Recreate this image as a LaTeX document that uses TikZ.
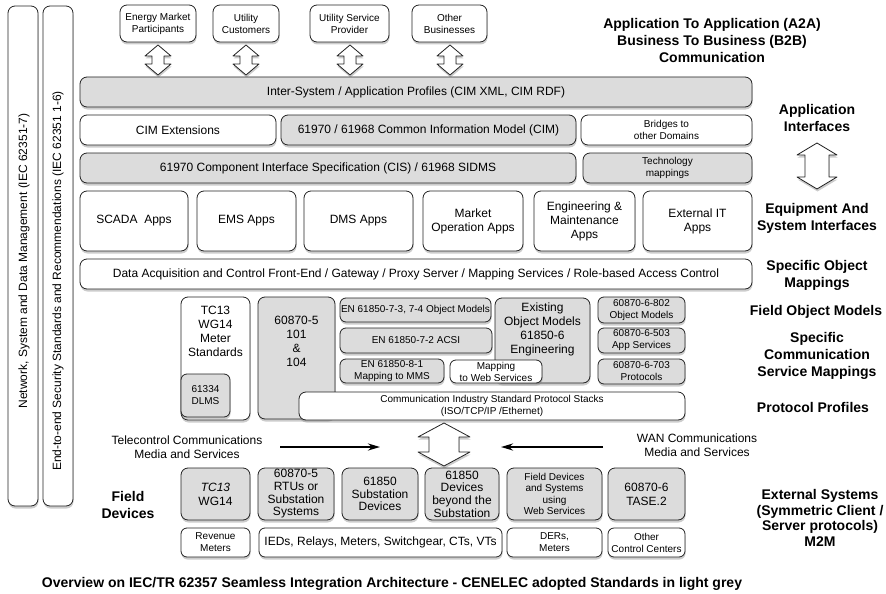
\documentclass[tikz,border=0pt]{standalone}
\usepackage{fontspec}
\setmainfont{Liberation Sans}
\usetikzlibrary{shadows,arrows.meta}
\definecolor{lgrey}{RGB}{220,220,220}
\definecolor{edge}{RGB}{35,35,35}
\newcommand{\placebox}[7]{\node[#1, minimum width={#5pt-#3pt}, minimum height={#6pt-#4pt}] (#2) at ({(#3+#5)/2},{(#4+#6)/2}) {#7};}
\newcommand{\dblarrow}[6]{%
  \draw[arrowshape] (#1,#2) -- ({#1+#4},{#2+#6}) -- ({#1+#5},{#2+#6}) -- ({#1+#5},{#3-#6}) -- ({#1+#4},{#3-#6}) -- (#1,#3) -- ({#1-#4},{#3-#6}) -- ({#1-#5},{#3-#6}) -- ({#1-#5},{#2+#6}) -- ({#1-#4},{#2+#6}) -- cycle;}
\begin{document}
\begin{tikzpicture}[x=1pt,y=-1pt,
  base/.style={draw=edge, line width=0.8pt, rounded corners=7pt, inner sep=1pt, align=center,
     drop shadow={shadow xshift=0.5pt, shadow yshift=-2.5pt, opacity=0.4}},
  wbox/.style={base, fill=white},
  gbox/.style={base, fill=lgrey},
  small/.style={rounded corners=6pt},
  f12/.style={font=\fontsize{12}{14}\selectfont},
  f10/.style={font=\fontsize{10}{12}\selectfont},
  lbl/.style={font=\bfseries\fontsize{14}{17}\selectfont, align=center, inner sep=0pt},
  txt/.style={align=center, inner sep=0pt},
  arrowshape/.style={draw=edge, line width=0.8pt, fill=white, line join=round,
     drop shadow={shadow xshift=0.5pt, shadow yshift=-2.5pt, opacity=0.4}},
  flow/.style={line width=2pt, -{Stealth[length=12pt,width=7pt]}}
]
\useasboundingbox (0,0) rectangle (886,594);

% left vertical bars
\placebox{wbox}{bar1}{8}{6}{38}{506}{}
\placebox{wbox}{bar2}{43}{6}{73}{506}{}
\node[txt, rotate=90, font=\fontsize{12}{14}\selectfont] (bar1t) at (24,261) {Network, System and Data Management (IEC 62351-7)};
\node[txt, rotate=90, font=\fontsize{12}{14}\selectfont] (bar2t) at (58,281) {End-to-end Security Standards and Recommendations (IEC 62351 1-6)};

% top partner boxes
\placebox{wbox,f10}{emp}{120}{5}{196}{42}{Energy Market\\Participants}
\placebox{wbox,f10}{uc}{213}{5}{279}{42}{Utility\\Customers}
\placebox{wbox,f10}{usp}{310}{5}{389}{42}{Utility Service\\Provider}
\placebox{wbox,f10}{ob}{412}{5}{487}{42}{Other\\Businesses}

\dblarrow{158}{45}{75}{13}{6}{11}
\dblarrow{246}{45}{75}{13}{6}{11}
\dblarrow{350}{45}{75}{13}{6}{11}
\dblarrow{450}{45}{75}{13}{6}{11}

% layers
\placebox{gbox,f12}{inter}{80}{77}{752}{107}{Inter-System / Application Profiles (CIM XML, CIM RDF)}
\placebox{wbox,f12}{cimext}{80}{115}{276}{145}{CIM Extensions}
\placebox{gbox,f12}{cim}{281}{115}{576}{145}{61970 / 61968 Common Information Model (CIM)}
\placebox{wbox,f10}{bridges}{581}{115}{752}{145}{Bridges to\\other Domains}
\placebox{gbox,f12}{cis}{80}{153}{576}{183}{61970 Component Interface Specification (CIS) / 61968 SIDMS}
\placebox{gbox,f10}{tech}{583}{153}{752}{183}{Technology\\mappings}

\placebox{wbox,f12}{scada}{80}{191}{188}{251}{SCADA\ \ Apps}
\placebox{wbox,f12}{ems}{197}{191}{296}{251}{EMS Apps}
\placebox{wbox,f12}{dms}{304}{191}{413}{251}{DMS Apps}
\placebox{wbox,f12}{market}{423}{191}{523}{251}{Market\\Operation Apps}
\placebox{wbox,f12}{eng}{534}{191}{635}{251}{Engineering \&\\Maintenance\\Apps}
\placebox{wbox,f12}{extit}{643}{191}{752}{251}{External IT\\Apps}

\placebox{wbox,f12}{daq}{80}{259}{752}{289}{Data Acquisition and Control Front-End / Gateway / Proxy Server / Mapping Services / Role-based Access Control}

% field object models / mappings
\placebox{wbox}{tc13}{181}{297}{250}{420}{}
\node[txt, f12] (tc13t) at (215.5,331) {TC13\\WG14\\Meter\\Standards};
\placebox{gbox,small,f10}{dlms}{181}{374}{230}{417}{61334\\DLMS}
\placebox{gbox}{iec5}{258}{297}{335}{419}{}
\node[txt, f12] (iec5t) at (296.5,341) {60870-5\\101\\\&\\104};
\placebox{gbox,small,f10}{en7374}{340}{298}{491}{322}{EN 61850-7-3, 7-4 Object Models}
\placebox{gbox,small,f10}{en72}{340}{328}{492}{353}{EN 61850-7-2 ACSI}
\placebox{gbox,small,f10}{en81}{340}{359}{444}{383}{EN 61850-8-1\\Mapping to MMS}
\placebox{gbox}{exist}{495}{298}{590}{383}{}
\node[txt, f12] (existt) at (542.5,329.5) {Existing\\Object Models\\61850-6\\Engineering};
\placebox{wbox,small,f10}{webmap}{450}{360}{542}{383}{Mapping\\to Web Services}
\placebox{gbox,small,f10}{r802}{598}{297}{685}{323}{60870-6-802\\Object Models}
\placebox{gbox,small,f10}{r503}{598}{328}{685}{353}{60870-6-503\\App Services}
\placebox{gbox,small,f10}{r703}{598}{359}{685}{384}{60870-6-703\\Protocols}
\placebox{wbox,f10}{comm}{299}{392}{685}{420}{Communication Industry Standard Protocol Stacks\\(ISO/TCP/IP /Ethernet)}

% communications media
\dblarrow{444}{423}{466}{26}{15}{14}
\node[txt, f12, font=\fontsize{12}{14.5}\selectfont] (tele) at (187,447) {Telecontrol Communications\\Media and Services};
\node[txt, f12, font=\fontsize{12}{14.5}\selectfont] (wan) at (697,445) {WAN Communications\\Media and Services};
\coordinate (teleA) at (280,447);
\coordinate (teleB) at (380,447);
\coordinate (wanA) at (603,447);
\coordinate (wanB) at (501,447);
\draw[flow] (teleA) -- (teleB);
\draw[flow] (wanA) -- (wanB);

% field devices
\placebox{gbox}{tcb}{181}{468}{250}{520}{}
\node[txt, f12] (tcbt) at (215.5,494) {\textit{TC13}\\WG14};
\placebox{gbox}{rtu}{258}{468}{334}{520}{}
\node[txt, font=\fontsize{12}{12.7}\selectfont] (rtut) at (296,494) {60870-5\\RTUs or\\Substation\\Systems};
\placebox{gbox}{sub}{342}{468}{418}{520}{}
\node[txt, font=\fontsize{12}{12.5}\selectfont] (subt) at (380,494) {61850\\Substation\\Devices};
\placebox{gbox}{beyond}{425}{468}{499}{520}{}
\node[txt, font=\fontsize{12}{12.7}\selectfont] (beyondt) at (462,494) {61850\\Devices\\beyond the\\Substation};
\placebox{gbox}{webdev}{507}{468}{602}{520}{}
\node[txt, font=\fontsize{10}{11.5}\selectfont] (webdevt) at (554.5,494) {Field Devices\\and Systems\\using\\Web Services};
\placebox{gbox,f12}{tase}{608}{468}{685}{520}{60870-6\\TASE.2}

\placebox{wbox,small,f10}{rev}{181}{528}{250}{557}{Revenue\\Meters}
\placebox{wbox,small,f12}{ieds}{259}{528}{502}{557}{IEDs, Relays, Meters, Switchgear, CTs, VTs}
\placebox{wbox,small,f10}{ders}{507}{528}{602}{557}{DERs,\\Meters}
\placebox{wbox,small,f10}{occ}{608}{528}{685}{557}{Other\\Control Centers}

% labels
\node[lbl] (fieldlbl) at (128,505) {Field\\Devices};
\node[lbl] (a2a) at (712,40) {Application To Application (A2A)\\Business To Business (B2B)\\Communication};
\node[lbl] (appif) at (817,117.5) {Application\\Interfaces};
\dblarrow{817}{143}{189}{20}{12}{12}
\node[lbl] (eqsys) at (817,218) {Equipment And\\System Interfaces};
\node[lbl] (som) at (817,275.5) {Specific Object\\Mappings};
\node[lbl] (fom) at (816,312) {Field Object Models};
\node[lbl] (scsm) at (817,356) {Specific\\Communication\\Service Mappings};
\node[lbl] (pp) at (813,407) {Protocol Profiles};
\node[lbl, font=\bfseries\fontsize{14}{15.8}\selectfont] (extsys) at (820,518) {External Systems\\(Symmetric Client /\\Server protocols)\\M2M};

\node[lbl] (caption) at (392,584) {Overview on IEC/TR 62357 Seamless Integration Architecture - CENELEC adopted Standards in light grey};
\end{tikzpicture}
\end{document}
